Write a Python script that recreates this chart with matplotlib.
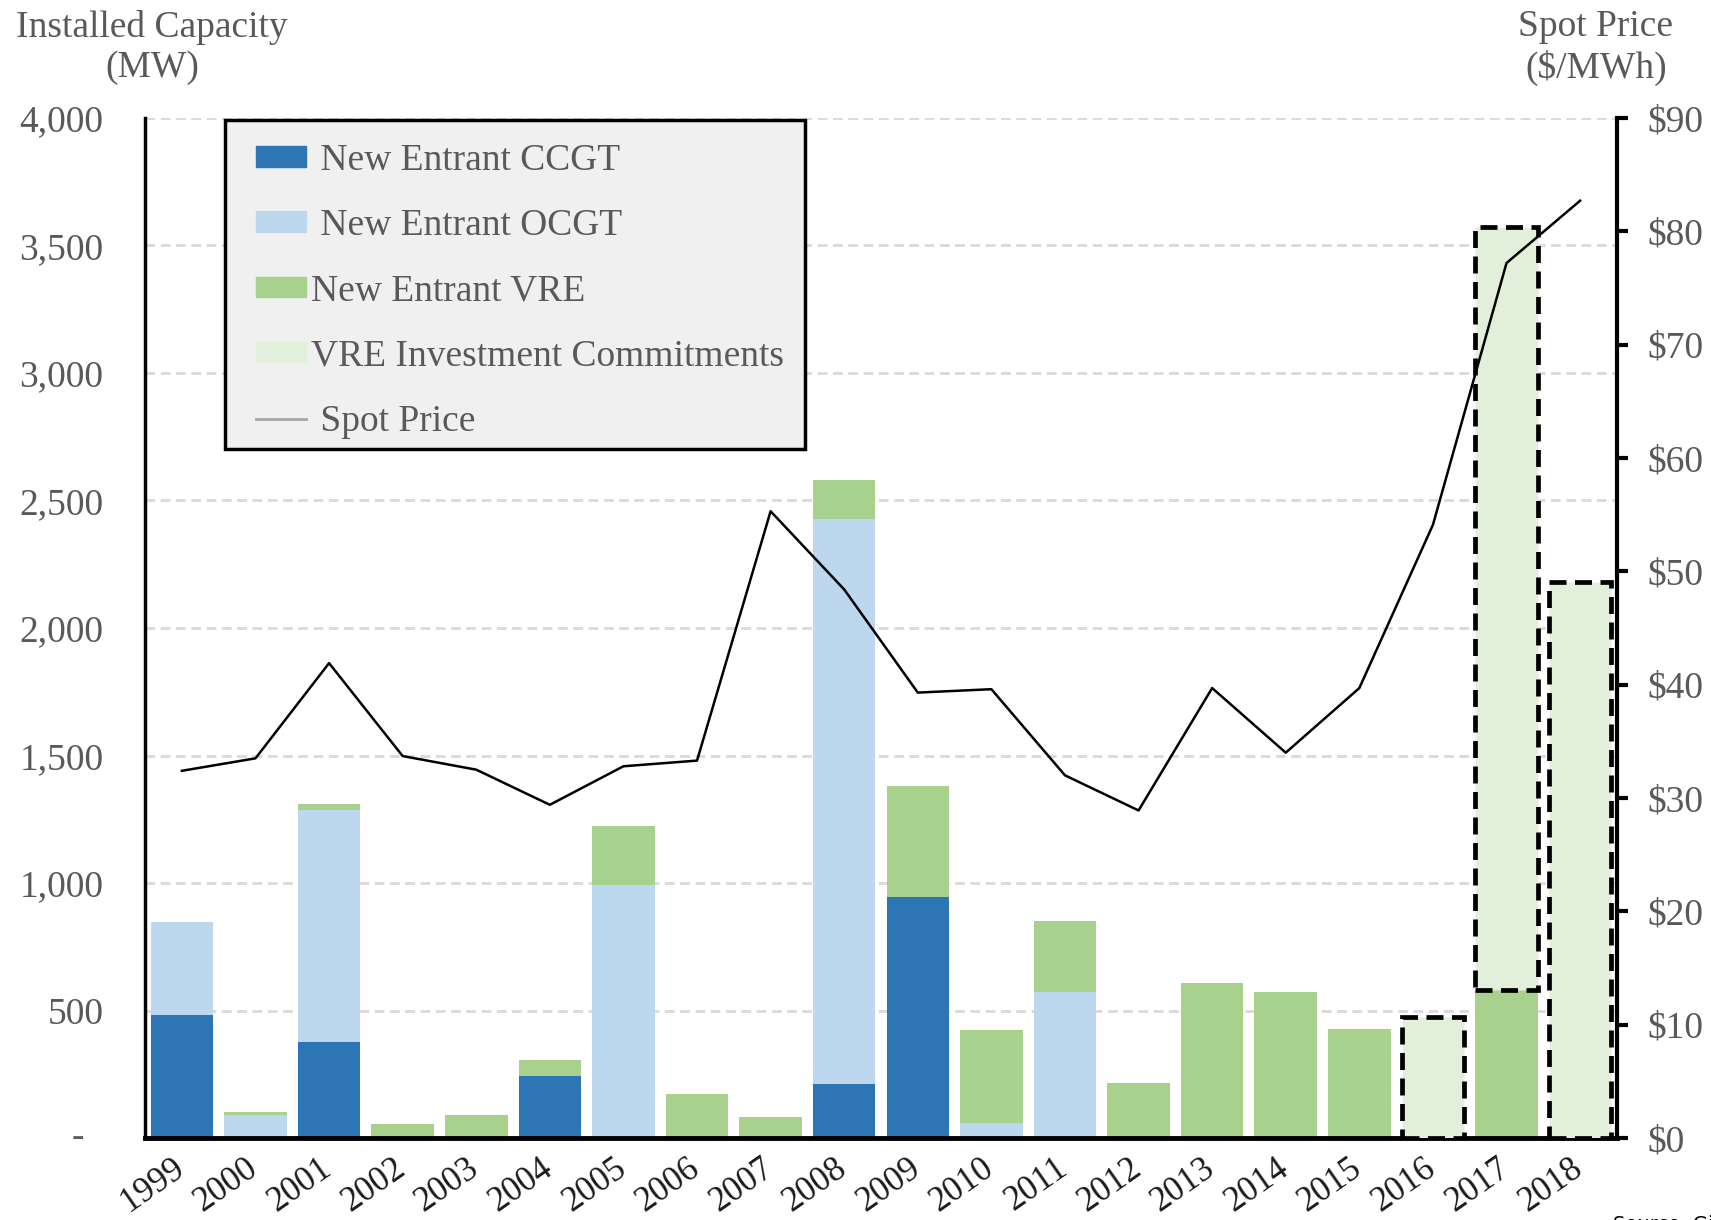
import matplotlib
matplotlib.use("Agg")
import matplotlib.pyplot as plt
from matplotlib.patches import Patch, Rectangle
from matplotlib.lines import Line2D
from matplotlib.legend_handler import HandlerPatch, HandlerLine2D
from matplotlib.transforms import ScaledTranslation
import numpy as np

years = ["1999", "2000", "2001", "2002", "2003", "2004", "2005", "2006", "2007", "2008",
         "2009", "2010", "2011", "2012", "2013", "2014", "2015", "2016", "2017", "2018"]
ccgt = [483, 0, 376, 0, 0, 244, 0, 0, 0, 210, 945, 0, 0, 0, 0, 0, 0, 0, 0, 0]
ocgt = [364, 92, 912, 0, 0, 0, 993, 0, 0, 2216, 0, 60, 573, 0, 0, 0, 0, 0, 0, 0]
vre = [0, 10, 21, 56, 90, 60, 231, 171, 81, 154, 437, 364, 278, 214, 607, 573, 428, 0, 582, 0]
commit = [0, 0, 0, 0, 0, 0, 0, 0, 0, 0, 0, 0, 0, 0, 0, 0, 0, 475, 2990, 2182]
price = [32.4, 33.5, 41.9, 33.7, 32.5, 29.4, 32.8, 33.3, 55.3, 48.4,
         39.3, 39.6, 32.0, 28.9, 39.7, 34.0, 39.7, 54.1, 77.2, 82.7]
left_ticks = [0, 500, 1000, 1500, 2000, 2500, 3000, 3500, 4000]
left_labels = ["", "500", "1,000", "1,500", "2,000", "2,500", "3,000", "3,500", "4,000"]
right_ticks = [0, 10, 20, 30, 40, 50, 60, 70, 80, 90]
right_labels = ["$0", "$10", "$20", "$30", "$40", "$50", "$60", "$70", "$80", "$90"]

C_CCGT = "#2e75b6"
C_OCGT = "#bdd7ee"
C_VRE = "#a9d18e"
C_COMMIT = "#e2efda"
GRAY = "#595959"
FS = 27

plt.rcParams["font.family"] = ["Liberation Serif", "DejaVu Serif"]

fig = plt.figure(figsize=(17.11, 12.20), dpi=100)
ax = fig.add_axes([0.0848, 0.0672, 0.8602, 0.8361])

x = np.arange(len(years))
w = 0.85
ccgt_a = np.array(ccgt)
ocgt_a = np.array(ocgt)
vre_a = np.array(vre)
commit_a = np.array(commit)

ax.bar(x, ccgt_a, w, color=C_CCGT, zorder=2)
ax.bar(x, ocgt_a, w, bottom=ccgt_a, color=C_OCGT, zorder=2)
ax.bar(x, vre_a, w, bottom=ccgt_a + ocgt_a, color=C_VRE, zorder=2)
base = ccgt_a + ocgt_a + vre_a
mask = commit_a > 0
ax.bar(x[mask], commit_a[mask], w, bottom=base[mask], color=C_COMMIT,
       edgecolor="black", linewidth=3.4, linestyle=(0, (3.6, 1.8)), zorder=3)

ax.set_xlim(-0.5, len(years) - 0.5)
ax.set_ylim(0, 4000)
ax.set_yticks(left_ticks)
ax.set_yticklabels(left_labels)
ax.yaxis.grid(True, color="#d9d9d9", linestyle=(0, (3.5, 2)), linewidth=2)
ax.set_axisbelow(True)
ax.tick_params(axis="y", length=0, pad=30, labelsize=FS, labelcolor=GRAY)
ax.set_xticks(x)
ax.set_xticklabels(years, rotation=35, ha="right", rotation_mode="anchor")
ax.tick_params(axis="x", length=0, pad=10, labelsize=25, labelcolor="#1a1a1a")
shift = ScaledTranslation(-0.10, 0, fig.dpi_scale_trans)
for lab in ax.get_xticklabels():
    lab.set_transform(lab.get_transform() + shift)
ax.annotate("-", xy=(0, 0), xycoords=("axes fraction", "data"), xytext=(-61, 0),
            textcoords="offset pixels", ha="right", va="center", fontsize=FS, color=GRAY)

for s in ["top", "right"]:
    ax.spines[s].set_visible(False)
ax.spines["left"].set_linewidth(2.5)
ax.spines["bottom"].set_linewidth(3.5)

ax2 = ax.twinx()
ax2.plot(x, price, color="black", linewidth=1.8, zorder=5)
ax2.set_ylim(0, 90)
ax2.set_yticks(right_ticks)
ax2.set_yticklabels(right_labels)
ax2.tick_params(axis="y", length=8, width=3, pad=14, labelsize=FS, labelcolor=GRAY, direction="out")
for s in ["top", "left", "bottom"]:
    ax2.spines[s].set_visible(False)
ax2.spines["right"].set_linewidth(3)

SHIFT = 0.22


def shifted_patch(legend, orig_handle, xdescent, ydescent, width, height, fontsize):
    off = SHIFT * fontsize
    return Rectangle((-xdescent + off, -ydescent), width - off, height)


class ShiftedLine(HandlerLine2D):
    def create_artists(self, legend, orig_handle, xdescent, ydescent, width, height,
                       fontsize, trans):
        off = SHIFT * fontsize
        y = (height - ydescent) / 2
        ln = Line2D([-xdescent + off, -xdescent + width], [y, y],
                    color=orig_handle.get_color(), linewidth=orig_handle.get_linewidth())
        ln.set_transform(trans)
        return [ln]


# legend frame drawn as a box in axes-fraction units
frame = Rectangle((0.0543, 0.6755), 0.3941, 0.3225, transform=ax2.transAxes,
                  facecolor="#f0f0f0", edgecolor="black", linewidth=2.5, zorder=9,
                  clip_on=False)
ax2.add_patch(frame)

handles = [Patch(color=C_CCGT), Patch(color=C_OCGT), Patch(color=C_VRE), Patch(color=C_COMMIT),
           Line2D([], [], color="#a6a6a6", linewidth=2)]
labels = [" New Entrant CCGT", " New Entrant OCGT", "New Entrant VRE",
          "VRE Investment Commitments", " Spot Price"]
hmap = {Patch: HandlerPatch(patch_func=shifted_patch), Line2D: ShiftedLine()}
leg = ax2.legend(handles, labels, loc="upper left", bbox_to_anchor=(0.054, 0.998),
                 borderaxespad=0, fontsize=FS, labelcolor=GRAY, frameon=False,
                 handlelength=1.55, handleheight=0.47, handletextpad=0.14,
                 labelspacing=0.82, borderpad=0.62, handler_map=hmap)
leg.set_zorder(10)

fig.text(152 / 1711, 1 - 10 / 1220, "Installed Capacity\n(MW)", ha="center", va="top",
         fontsize=FS, color=GRAY, linespacing=1.19)
fig.text(1596 / 1711, 1 - 10 / 1220, "Spot Price\n($/MWh)", ha="center", va="top",
         fontsize=FS, color=GRAY, linespacing=1.19)
fig.text(1613 / 1711, 0.004, "Source: Giles", ha="left", va="top", fontsize=14,
         color="black", family="DejaVu Sans")

fig.savefig("out.png", dpi=100)
